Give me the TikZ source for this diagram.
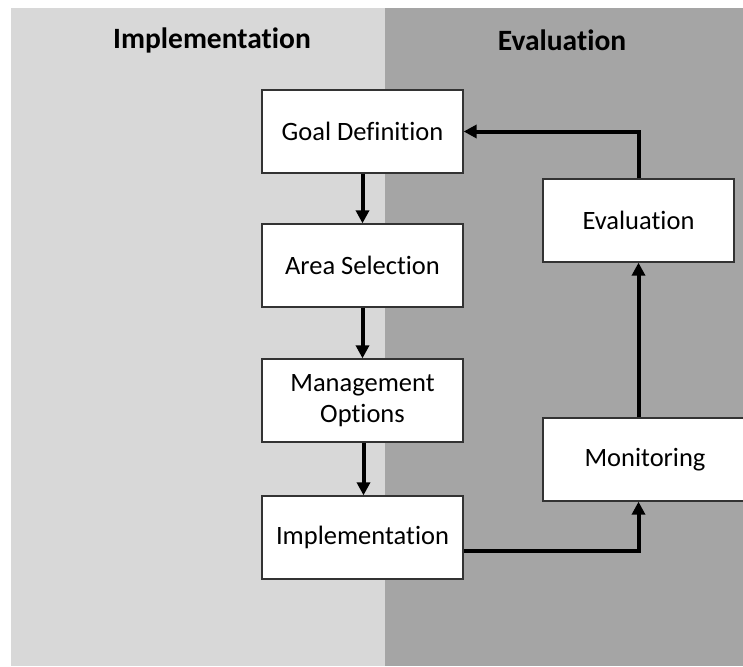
\documentclass[tikz,border=0pt]{standalone}
\usepackage{fontspec}
\setmainfont{Carlito}[Ligatures={NoCommon}]
\usetikzlibrary{arrows.meta}
\definecolor{leftbg}{HTML}{D8D8D8}
\definecolor{rightbg}{HTML}{A5A5A5}
\definecolor{boxline}{HTML}{333333}
\tikzset{
  stepbox/.style={draw=boxline, line width=1.3pt, fill=white, minimum width=201pt, minimum height=83pt, inner sep=0pt, align=center, font=\fontsize{26.5}{31}\selectfont},
  flowarrow/.style={line width=4pt, -{Triangle[width=13pt,length=13pt]}, line join=miter},
  paneltitle/.style={font=\fontsize{29.5}{34}\selectfont\bfseries, inner sep=0pt}
}
\begin{document}
\begin{tikzpicture}[x=1pt,y=-1pt]
\useasboundingbox (0,0) rectangle (743,666);
\begin{scope}
\clip (0,0) rectangle (743,666);
\fill[white] (0,0) rectangle (743,666);
\fill[leftbg] (11,8) rectangle (385,666);
\fill[rightbg] (385,8) rectangle (743,666);
\node[paneltitle] (t1) at (212,40) {Implementation};
\node[paneltitle] (t2) at (562,40) {Evaluation};
\node[stepbox] (goal) at (362.5,131.5) {Goal Definition};
\node[stepbox] (area) at (362.5,265.5) {Area Selection};
\node[stepbox] (mgmt) at (362.5,400.5) {Management\\Options};
\node[stepbox] (impl) at (362.5,537.5) {Implementation};
\node[stepbox, minimum width=191pt] (eval) at (638.5,220.5) {Evaluation};
\node[stepbox, minimum width=204pt] (mon) at (645,459.5) {Monitoring};
\draw[flowarrow] (goal.south) -- (area.north);
\draw[flowarrow] (area.south) -- (mgmt.north);
\draw[flowarrow] ([xshift=1pt]mgmt.south) -- ([xshift=1pt]impl.north);
\draw[flowarrow] ([yshift=-13pt]impl.east) -| ([xshift=-6.5pt]mon.south);
\draw[flowarrow] ([xshift=-6.5pt]mon.north) -- (eval.south);
\draw[flowarrow] (eval.north) |- (goal.east);
\end{scope}
\end{tikzpicture}
\end{document}
